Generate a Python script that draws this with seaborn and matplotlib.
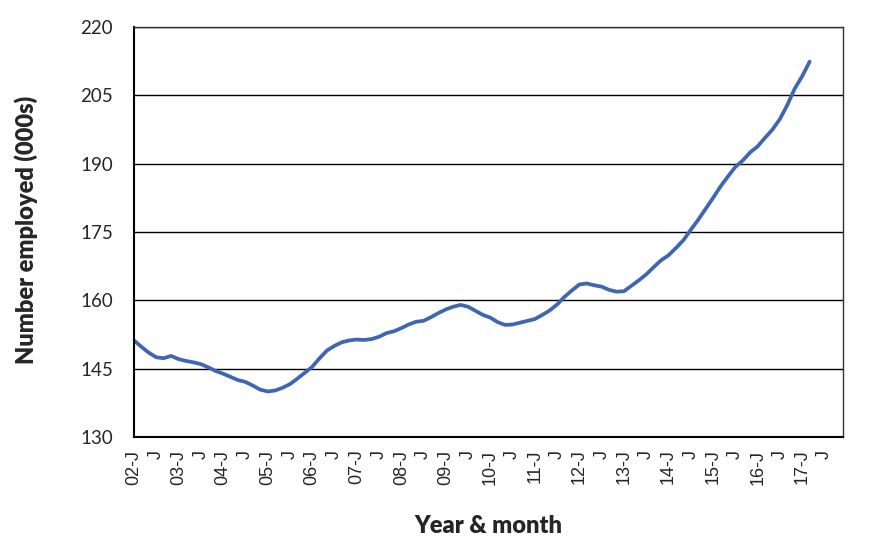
import pandas as pd
import matplotlib
matplotlib.use("Agg")
import matplotlib.pyplot as plt
import seaborn as sns

# Employment, thousands, read every second month from Jan 2002 to Mar 2017
employed = [151.2, 149.8, 148.5, 147.5, 147.3, 147.8, 147.1, 146.7, 146.4, 146.0,
            145.3, 144.5, 143.9, 143.2, 142.5, 142.1, 141.3, 140.4, 140.0, 140.2,
            140.8, 141.6, 142.8, 144.1, 145.4, 147.3, 149.0, 150.0, 150.8, 151.2,
            151.4, 151.3, 151.5, 152.0, 152.8, 153.2, 153.9, 154.7, 155.3, 155.5,
            156.3, 157.2, 158.0, 158.6, 159.0, 158.6, 157.7, 156.8, 156.2, 155.2,
            154.6, 154.7, 155.1, 155.5, 155.9, 156.8, 157.8, 159.1, 160.8, 162.2,
            163.5, 163.7, 163.3, 163.0, 162.3, 161.9, 162.0, 163.2, 164.4, 165.7,
            167.3, 168.8, 169.9, 171.5, 173.2, 175.5, 177.7, 180.1, 182.5, 185.0,
            187.2, 189.3, 190.7, 192.5, 193.8, 195.7, 197.5, 199.8, 202.9, 206.5,
            209.2, 212.4]

tick_labels = ["02-J", "J", "03-J", "J", "04-J", "J", "05-J", "J",
               "06-J", "J", "07-J", "J", "08-J", "J", "09-J", "J",
               "10-J", "J", "11-J", "J", "12-J", "J", "13-J", "J",
               "14-J", "J", "15-J", "J", "16-J", "J", "17-J", "J"]
y_ticks = [130, 145, 160, 175, 190, 205, 220]

dates = pd.date_range("2002-01-01", periods=len(employed), freq="2MS")
df = pd.DataFrame({"date": dates, "employed": employed})
# category position = months since Jan 2002 (Excel-style monthly category axis)
df["pos"] = (df["date"].dt.year - 2002) * 12 + df["date"].dt.month - 1

sns.set_style("white")
plt.rcParams["font.family"] = ["Lato", "DejaVu Sans"]

fig = plt.figure(figsize=(8.7, 5.55), dpi=100)
ax = fig.add_axes([0.154, 0.2126, 0.815, 0.7387])

sns.lineplot(data=df, x="pos", y="employed", ax=ax, color="#3F67B1", linewidth=2.7)

ax.set_xlim(0, 191)
ax.set_ylim(130, 220)
ax.set_yticks(y_ticks)
ax.set_yticklabels([str(v) for v in y_ticks], fontsize=13.5)
ax.set_xticks(range(0, 6 * len(tick_labels), 6))
ax.set_xticklabels(tick_labels, rotation=90, fontsize=13, family="Liberation Sans")
ax.tick_params(axis="both", length=0)
ax.tick_params(axis="y", pad=15)
ax.tick_params(axis="x", pad=9)

ax.grid(axis="y", color="black", linewidth=1.0)
ax.grid(axis="x", visible=False)
for side in ["left", "bottom"]:
    ax.spines[side].set_color("black")
    ax.spines[side].set_linewidth(1.5)
for side in ["top", "right"]:
    ax.spines[side].set_color("#333333")
    ax.spines[side].set_linewidth(1.0)

ax.set_xlabel("Year & month", fontsize=17, fontweight="heavy")
ax.set_ylabel("Number employed (000s)", fontsize=17, fontweight="heavy")
ax.xaxis.set_label_coords(0.5, -0.19)
ax.yaxis.set_label_coords(-0.135, 0.505)

fig.savefig("out.png", dpi=100)
